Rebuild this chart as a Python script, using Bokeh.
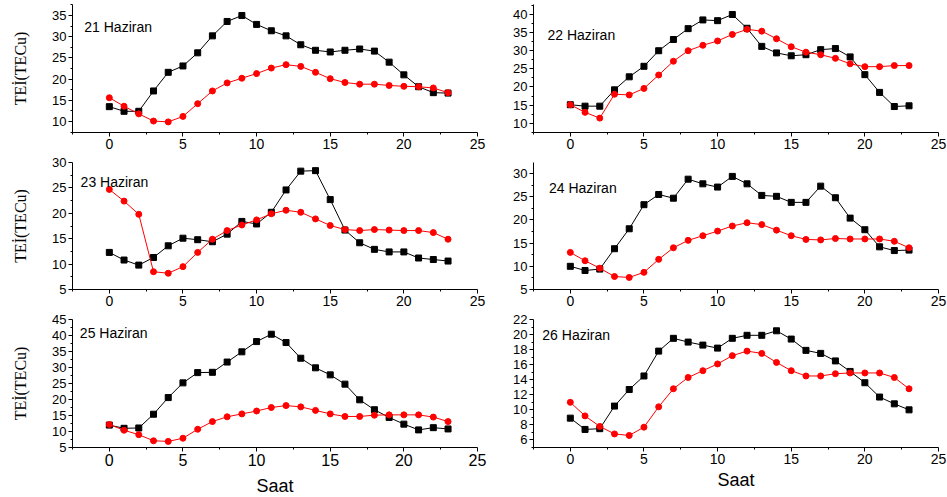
from bokeh.plotting import figure
from bokeh.models import Range1d, FixedTicker, Label
from bokeh.layouts import column, row
from bokeh.embed import file_html
from bokeh.resources import INLINE
import numpy as np

hours = list(range(24))

day_labels = ["21 Haziran", "22 Haziran", "23 Haziran", "24 Haziran", "25 Haziran", "26 Haziran"]

black_21 = [13.5, 12.4, 12.4, 17.2, 21.6, 23.1, 26.2, 30.2, 33.6, 35.0, 32.9, 31.4,
            30.2, 28.1, 26.8, 26.4, 26.8, 27.1, 26.6, 24.0, 21.0, 18.2, 16.8, 16.7]
red_21 = [15.6, 13.6, 11.8, 10.1, 9.9, 11.2, 14.2, 17.2, 19.1, 20.2, 21.3, 22.6,
          23.4, 23.0, 21.6, 20.1, 19.2, 18.8, 18.8, 18.5, 18.3, 18.2, 17.9, 16.8]

black_22 = [15.1, 14.7, 14.7, 19.2, 22.8, 25.7, 30.0, 33.1, 36.1, 38.5, 38.3, 40.0,
            36.2, 31.2, 29.4, 28.6, 28.9, 30.3, 30.6, 28.3, 23.4, 18.5, 14.6, 14.8]
red_22 = [15.1, 13.0, 11.4, 18.0, 17.8, 19.6, 23.3, 27.1, 30.0, 31.5, 32.7, 34.5,
          35.9, 35.4, 33.3, 31.1, 29.6, 28.9, 27.9, 26.4, 25.6, 25.6, 25.9, 25.9]

black_23 = [12.3, 10.8, 9.8, 11.3, 13.6, 15.1, 14.8, 14.4, 15.9, 18.4, 17.9, 20.2,
            24.6, 28.3, 28.4, 22.7, 16.7, 14.2, 12.9, 12.4, 12.4, 11.2, 10.9, 10.6]
red_23 = [24.7, 22.4, 19.8, 8.5, 8.2, 9.5, 12.3, 14.9, 16.6, 17.7, 18.7, 19.9,
          20.6, 20.2, 18.9, 17.6, 16.8, 16.6, 16.8, 16.7, 16.6, 16.6, 16.2, 14.9]

black_24 = [10.0, 9.1, 9.4, 13.8, 18.1, 23.3, 25.5, 24.7, 28.8, 27.8, 27.1, 29.4,
            27.8, 25.3, 25.1, 23.8, 23.8, 27.3, 24.8, 20.4, 17.9, 14.2, 13.4, 13.5]
red_24 = [13.0, 11.2, 9.6, 7.8, 7.6, 8.7, 11.5, 14.0, 15.6, 16.6, 17.6, 18.7,
          19.4, 19.0, 17.8, 16.6, 15.8, 15.7, 16.0, 15.9, 15.9, 15.9, 15.4, 14.0]

black_25 = [12.0, 11.0, 11.1, 15.4, 20.6, 25.2, 28.4, 28.5, 31.7, 34.9, 38.1, 40.4,
            37.8, 32.9, 29.9, 27.7, 24.8, 19.9, 16.8, 14.4, 12.3, 10.5, 11.2, 10.8]
red_25 = [12.2, 10.4, 9.0, 7.1, 6.9, 7.9, 10.7, 13.1, 14.6, 15.5, 16.4, 17.5,
          18.1, 17.7, 16.6, 15.5, 14.7, 14.7, 15.1, 15.2, 15.2, 15.2, 14.5, 13.1]

black_26 = [8.9, 7.4, 7.5, 10.5, 12.7, 14.5, 17.8, 19.5, 19.0, 18.6, 18.2, 19.5,
            19.9, 19.9, 20.5, 19.4, 17.9, 17.5, 16.5, 15.1, 13.6, 11.7, 10.8, 10.0]
red_26 = [11.0, 9.2, 7.8, 6.8, 6.6, 7.7, 10.4, 12.8, 14.3, 15.2, 16.1, 17.2,
          17.8, 17.5, 16.3, 15.2, 14.5, 14.5, 14.8, 14.9, 14.9, 14.9, 14.3, 12.8]

x_ticks = [0, 5, 10, 15, 20, 25]
x_minor = [-2.5, 2.5, 7.5, 12.5, 17.5, 22.5]

y_ticks = [
    [10, 15, 20, 25, 30, 35],
    [10, 15, 20, 25, 30, 35, 40],
    [5, 10, 15, 20, 25, 30],
    [5, 10, 15, 20, 25, 30],
    [5, 10, 15, 20, 25, 30, 35, 40, 45],
    [6, 8, 10, 12, 14, 16, 18, 20, 22],
]
y_ranges = [(7.4, 37.6), (7.43, 42.76), (5, 30), (5, 32.4), (5, 45), (5, 22)]
label_pos = [(-1.7, 32.2), (-1.55, 34.3), (-1.95, 26.1), (-1.45, 26.9), (-2.0, 40.8), (-1.9, 20.0)]

blacks = [black_21, black_22, black_23, black_24, black_25, black_26]
reds = [red_21, red_22, red_23, red_24, red_25, red_26]

SANS = "Liberation Sans"
SERIF = "Liberation Serif"


def make_panel(i):
    left_col = (i % 2 == 0)
    r = i // 2
    fw = 405
    mbl = 72 if left_col else 35
    mbr = 21 if left_col else 9
    if r == 0:
        fh, mbt, mbb = 128, 4, 24
    elif r == 1:
        fh, mbt, mbb = 127, 6, 24
    else:
        fh, mbt, mbb = 128, 6, 50
    lo, hi = y_ranges[i]
    p = figure(frame_width=fw, frame_height=fh,
               x_range=Range1d(-2.5, 25), y_range=Range1d(lo, hi),
               output_backend="svg", toolbar_location=None,
               min_border_left=mbl, min_border_right=mbr,
               min_border_top=mbt, min_border_bottom=mbb)
    p.outline_line_color = None
    p.grid.visible = False

    yt = y_ticks[i]
    step = yt[1] - yt[0]
    ym = [v for v in np.arange(yt[0] - step / 2, hi + 0.01, step) if lo <= v <= hi]
    p.xaxis.ticker = FixedTicker(ticks=x_ticks, minor_ticks=x_minor)
    p.yaxis.ticker = FixedTicker(ticks=yt, minor_ticks=[float(v) for v in ym])

    for ax in (p.xaxis[0], p.yaxis[0]):
        ax.axis_line_color = "black"
        ax.axis_line_width = 1
        ax.major_tick_line_color = "black"
        ax.minor_tick_line_color = "black"
        ax.major_tick_out = 4
        ax.major_tick_in = 0
        ax.minor_tick_out = 2
        ax.minor_tick_in = 0
        ax.major_label_text_color = "black"
        ax.major_label_text_font = SANS
    p.yaxis.major_label_text_font_size = "13px"
    p.yaxis.major_label_standoff = 2
    p.xaxis.major_label_standoff = 2
    if r == 2 and left_col:
        p.xaxis.major_label_text_font_size = "16px"
    else:
        p.xaxis.major_label_text_font_size = "14px"

    if left_col:
        p.yaxis.axis_label = "TEİ(TECu)"
        p.yaxis.axis_label_text_font = SERIF
        p.yaxis.axis_label_text_font_style = "normal"
        p.yaxis.axis_label_text_font_size = "16px"
        p.yaxis.axis_label_text_color = "black"
        p.yaxis.axis_label_standoff = 20
    if r == 2:
        p.xaxis.axis_label = "Saat"
        p.xaxis.axis_label_text_font = SANS
        p.xaxis.axis_label_text_font_style = "normal"
        p.xaxis.axis_label_text_font_size = "18px"
        p.xaxis.axis_label_text_color = "black"
        p.xaxis.axis_label_standoff = 7 if left_col else 3

    p.line(hours, blacks[i], line_color="black", line_width=1)
    p.scatter(hours, blacks[i], marker="square", size=6, fill_color="black", line_color="black")
    p.line(hours, reds[i], line_color="#ff0000", line_width=1)
    p.scatter(hours, reds[i], marker="circle", size=6, fill_color="#ff0000", line_color="#ff0000")

    lx, ly = label_pos[i]
    p.add_layout(Label(x=lx, y=ly, text=day_labels[i], text_font=SANS,
                       text_font_size="14px", text_color="black", text_baseline="middle"))
    return p


panels = [make_panel(i) for i in range(6)]
layout = column(row(panels[0], panels[1]), row(panels[2], panels[3]), row(panels[4], panels[5]))

open("out.html", "w").write(file_html(layout, INLINE))
